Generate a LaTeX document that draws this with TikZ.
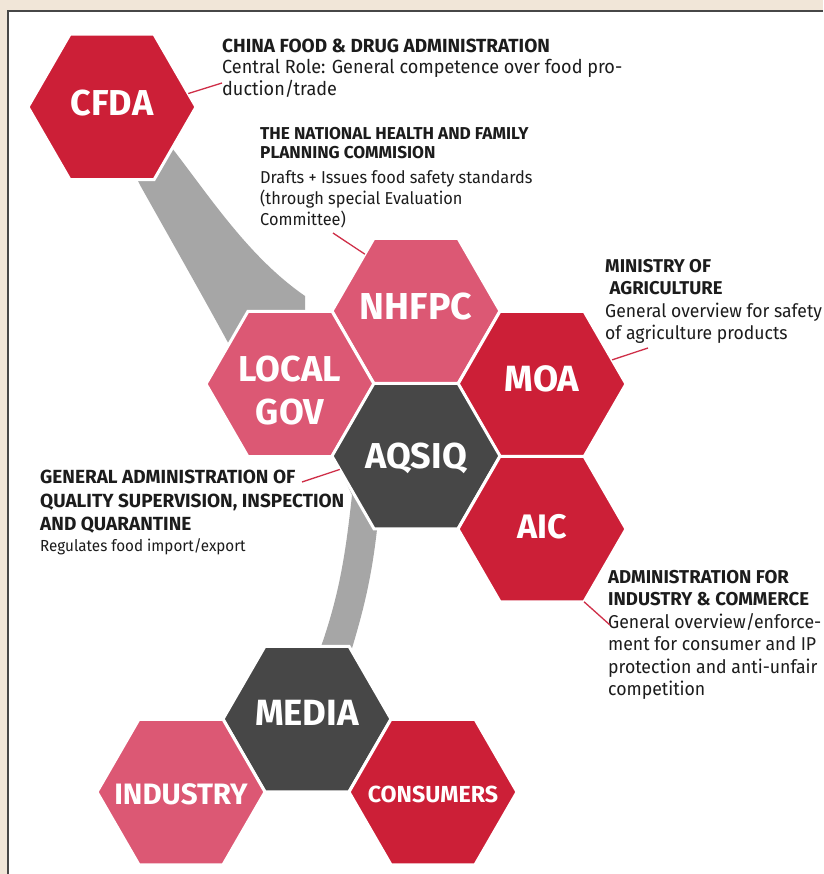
\documentclass[tikz,border=0pt]{standalone}
\usepackage{fontspec}
\setmainfont{Fira Sans}[FakeStretch=0.95]
\newfontfamily\cellfont{Fira Sans}
\newfontfamily\headfont{Fira Sans}
\usetikzlibrary{shapes.geometric}

\definecolor{hexred}{HTML}{CC1F37}
\definecolor{hexrose}{HTML}{DC5874}
\definecolor{hexdark}{HTML}{474747}
\definecolor{bandgray}{HTML}{A6A6A6}
\definecolor{pagebeige}{HTML}{F1E6D8}
\definecolor{framegray}{HTML}{474747}
\definecolor{pinred}{HTML}{CF2F48}
\definecolor{inkblack}{HTML}{1C1C1C}

\newcommand{\headline}[1]{{\headfont\bfseries #1}}
\newcommand{\cellsize}[1]{\cellfont\bfseries\fontsize{#1}{43}\selectfont}

\tikzset{
  hexcell/.style={regular polygon, regular polygon sides=6, minimum size=168pt,
    inner sep=0pt, outer sep=0pt, draw=white, line width=3pt},
  celllabel/.style={text=white, align=center, inner sep=0pt},
  pinline/.style={pinred, line width=1.3pt},
  infotext/.style={anchor=north west, align=left, inner sep=0pt, text=inkblack},
}

\begin{document}
\begin{tikzpicture}[x=1pt,y=-1pt]
  \useasboundingbox (0,0) rectangle (823,874);
  \fill[pagebeige] (0,0) rectangle (823,874);
  \fill[white] (8,11) rectangle (823,874);
  \draw[framegray,line width=2.5pt] (8,874) -- (8,11) -- (823,11);

  % grey bands behind the cells
  \fill[bandgray] (135,175) -- (172,148) .. controls (212,200) and (250,258) .. (305,296)
    -- (305,330) -- (232,350) .. controls (205,300) and (168,235) .. (140,185) -- cycle;
  \fill[bandgray] (345,480) -- (352,495) .. controls (345,560) and (338,600) .. (318,655)
    -- (350,655) .. controls (362,615) and (372,580) .. (378,520) -- cycle;

  % cells
  \node[hexcell,fill=hexred] (cfda) at (112,107) {};
  \node[hexcell,fill=hexrose] (nhfpc) at (416,311) {};
  \node[hexcell,fill=hexrose] (localgov) at (290,384) {};
  \node[hexcell,fill=hexred] (moa) at (542,384) {};
  \node[hexcell,fill=hexdark] (aqsiq) at (416,456) {};
  \node[hexcell,fill=hexred] (aic) at (542,529) {};
  \node[hexcell,fill=hexdark] (media) at (307,719) {};
  \node[hexcell,fill=hexrose] (industry) at (181,792) {};
  \node[hexcell,fill=hexred] (consumers) at (433,792) {};

  % cell names
  \node[celllabel,font=\cellsize{36},yshift=4pt] (cfdalbl) at (cfda) {CFDA};
  \node[celllabel,font=\cellsize{37.5},yshift=4pt] (nhfpclbl) at (nhfpc) {NHFPC};
  \node[celllabel,font=\cellsize{36},yshift=-7pt] (localgovlbl) at (localgov) {LOCAL\\GOV};
  \node[celllabel,font=\cellsize{36.5},yshift=5pt] (moalbl) at (moa) {MOA};
  \node[celllabel,font=\cellsize{36},yshift=-2pt] (aqsiqlbl) at (aqsiq) {AQSIQ};
  \node[celllabel,font=\cellsize{34},yshift=2pt] (aiclbl) at (aic) {AIC};
  \node[celllabel,font=\cellsize{36.5},yshift=6pt] (medialbl) at (media) {MEDIA};
  \node[celllabel,font=\cellsize{29.5},yshift=-2pt] (industrylbl) at (industry) {INDUSTRY};
  \node[celllabel,font=\cellsize{23.2},yshift=-2pt] (consumerslbl) at (consumers) {CONSUMERS};

  % explanations
  \node[infotext,font=\fontsize{19}{21.5}\selectfont] (cfdatext) at (222,38.5)
    {\headline{CHINA FOOD \& DRUG ADMINISTRATION}\\Central Role: General competence over food pro-\\duction/trade};
  \node[infotext,font=\fontsize{17.2}{21}\selectfont] (nhfpctext) at (260,127)
    {\headline{THE NATIONAL HEALTH AND FAMILY}\\[-2pt]\headline{PLANNING COMMISION}\\[4pt]Drafts + Issues food safety standards\\(through special Evaluation\\Committee)};
  \node[infotext,font=\fontsize{18.5}{22.5}\selectfont] (moatext) at (605,259)
    {\headline{MINISTRY OF}\\\headline{\ AGRICULTURE}\\General overview for safety\\of agriculture products};
  \node[infotext,font=\fontsize{19}{23.5}\selectfont] (aqsiqtext) at (40,470)
    {\headline{GENERAL ADMINISTRATION OF}\\\headline{QUALITY SUPERVISION, INSPECTION}\\\headline{AND QUARANTINE}\\[-3pt]{\fontsize{16}{18}\selectfont Regulates food import/export}};
  \node[infotext,font=\fontsize{18.6}{22.5}\selectfont] (aictext) at (608,570)
    {\headline{ADMINISTRATION FOR}\\\headline{INDUSTRY \& COMMERCE}\\General overview/enforce-\\ment for consumer and IP\\protection and anti-unfair\\competition};

  % pointers
  \coordinate (cfdatip) at (222,83);
  \coordinate (nhfpctip) at (333,233);
  \coordinate (moatip) at (648,348);
  \coordinate (aqsiqtip) at (302,482);
  \coordinate (aictip) at (610,625);
  \draw[pinline] (cfda.10) -- (cfdatip);
  \draw[pinline] (nhfpc.132) -- (nhfpctip);
  \draw[pinline] (moa.19) -- (moatip);
  \draw[pinline] (aqsiq.190) -- (aqsiqtip);
  \draw[pinline] (aic.-60) -- (aictip);
\end{tikzpicture}
\end{document}
